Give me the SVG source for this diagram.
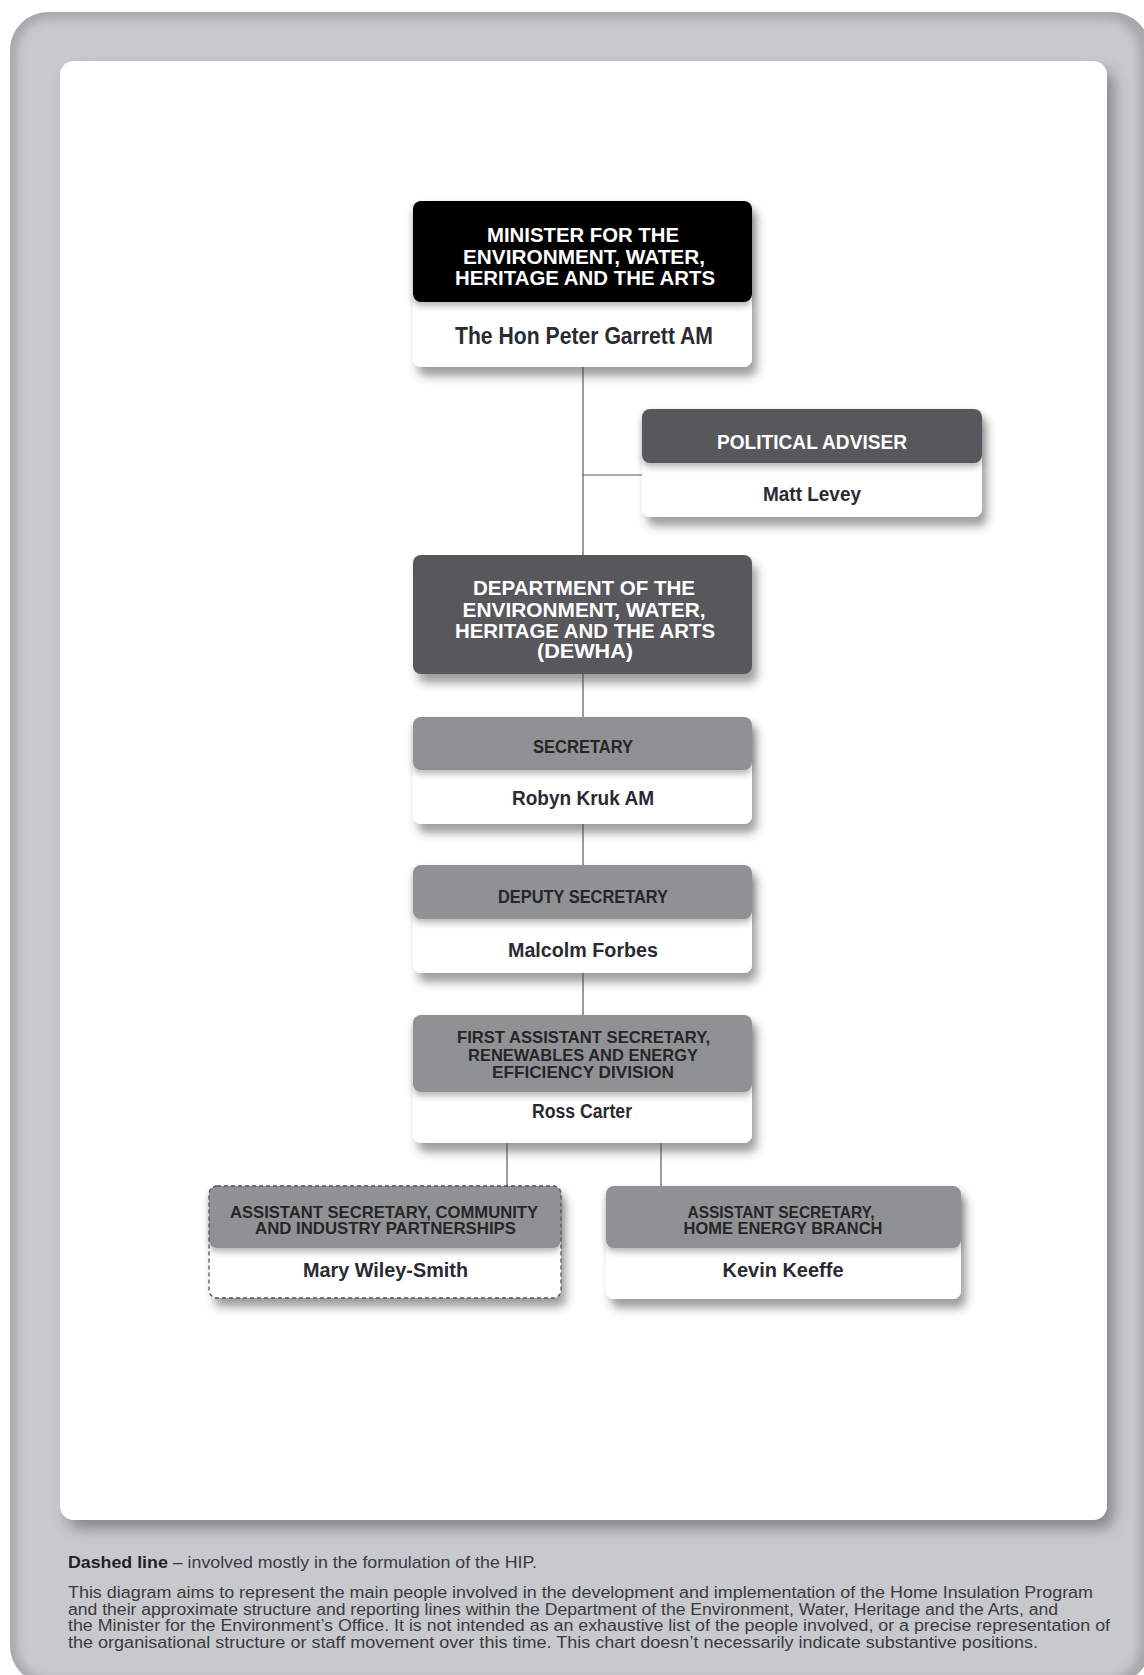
<svg xmlns="http://www.w3.org/2000/svg" width="1144" height="1675" viewBox="0 0 1144 1675">
<defs>
<filter id="soft" x="-5%" y="-5%" width="110%" height="110%"><feGaussianBlur stdDeviation="5"/></filter>
<filter id="panelShadow" x="-5%" y="-5%" width="115%" height="115%"><feDropShadow dx="7" dy="9" stdDeviation="7" flood-color="#55565a" flood-opacity="0.55"/></filter>
<filter id="boxShadow" x="-10%" y="-20%" width="125%" height="160%"><feDropShadow dx="5" dy="9" stdDeviation="5" flood-color="#3a3a3a" flood-opacity="0.5"/></filter>
<filter id="hdrShadow" x="-5%" y="-20%" width="110%" height="160%"><feDropShadow dx="0" dy="4" stdDeviation="3" flood-color="#333" flood-opacity="0.35"/></filter>
<style>
.hw{font-family:"Liberation Sans",Arial,sans-serif;font-weight:bold;fill:#ffffff;text-anchor:middle}
.hd{font-family:"Liberation Sans",Arial,sans-serif;font-weight:bold;fill:#262626;text-anchor:middle}
.nm{font-family:"Liberation Sans",Arial,sans-serif;font-weight:bold;fill:#2a2a33;text-anchor:middle;font-size:19.5px}
.ft{font-family:"Liberation Sans",Arial,sans-serif;fill:#3a3a42;font-size:16px}
.box{fill:#ffffff}
.blk{fill:#050505}
.drk{fill:#58585b}
.mid{fill:#909194}
.ln{stroke:#5a5a5a;stroke-width:1.2;fill:none}
</style>
</defs>

<!-- background panels -->
<rect x="10" y="12" width="1140" height="1672" rx="38" fill="#a6a7aa"/>
<rect x="17" y="19" width="1122" height="1660" rx="33" fill="#c8c9cc" filter="url(#soft)"/>
<rect x="60" y="61" width="1047" height="1459" rx="14" fill="#ffffff" filter="url(#panelShadow)"/>

<!-- connectors -->
<g id="connectors">
<line class="ln" x1="583" y1="367" x2="583" y2="555"/>
<line class="ln" x1="583" y1="475" x2="642" y2="475"/>
<line class="ln" x1="583" y1="674" x2="583" y2="717"/>
<line class="ln" x1="583" y1="824" x2="583" y2="865"/>
<line class="ln" x1="583" y1="973" x2="583" y2="1015"/>
<line class="ln" x1="507" y1="1143" x2="507" y2="1186"/>
<line class="ln" x1="661" y1="1143" x2="661" y2="1186"/>
</g>

<g id="minister">
<rect class="box" x="413" y="201" width="339" height="166" rx="8" filter="url(#boxShadow)"/>
<rect class="blk" x="413" y="201" width="339" height="101" rx="8" filter="url(#hdrShadow)"/>
<text class="hw" font-size="21" x="583" y="242" textLength="192" lengthAdjust="spacingAndGlyphs">MINISTER FOR THE</text>
<text class="hw" font-size="21" x="584" y="264" textLength="242" lengthAdjust="spacingAndGlyphs">ENVIRONMENT, WATER,</text>
<text class="hw" font-size="21" x="585" y="285" textLength="260" lengthAdjust="spacingAndGlyphs">HERITAGE AND THE ARTS</text>
<text class="nm" style="font-size:24px" x="584" y="344" textLength="258" lengthAdjust="spacingAndGlyphs">The Hon Peter Garrett AM</text>
</g>

<g id="adviser">
<rect class="box" x="642" y="409" width="340" height="108" rx="8" filter="url(#boxShadow)"/>
<rect class="drk" x="642" y="409" width="340" height="54" rx="8" filter="url(#hdrShadow)"/>
<text class="hw" font-size="19.5" x="812" y="449" textLength="190" lengthAdjust="spacingAndGlyphs">POLITICAL ADVISER</text>
<text class="nm" x="812" y="501" textLength="98" lengthAdjust="spacingAndGlyphs">Matt Levey</text>
</g>

<g id="dewha">
<rect class="drk" x="413" y="555" width="339" height="119" rx="8" filter="url(#boxShadow)"/>
<text class="hw" font-size="21" x="584" y="595" textLength="222" lengthAdjust="spacingAndGlyphs">DEPARTMENT OF THE</text>
<text class="hw" font-size="21" x="584" y="616.5" textLength="243" lengthAdjust="spacingAndGlyphs">ENVIRONMENT, WATER,</text>
<text class="hw" font-size="21" x="585" y="638" textLength="260" lengthAdjust="spacingAndGlyphs">HERITAGE AND THE ARTS</text>
<text class="hw" font-size="21" x="585" y="658" textLength="96" lengthAdjust="spacingAndGlyphs">(DEWHA)</text>
</g>

<g id="secretary">
<rect class="box" x="413" y="717" width="339" height="107" rx="8" filter="url(#boxShadow)"/>
<rect class="mid" x="413" y="717" width="339" height="53" rx="8" filter="url(#hdrShadow)"/>
<text class="hd" font-size="17.5" x="583" y="753" textLength="100" lengthAdjust="spacingAndGlyphs">SECRETARY</text>
<text class="nm" x="583" y="805" textLength="142" lengthAdjust="spacingAndGlyphs">Robyn Kruk AM</text>
</g>

<g id="deputy">
<rect class="box" x="413" y="865" width="339" height="108" rx="8" filter="url(#boxShadow)"/>
<rect class="mid" x="413" y="865" width="339" height="54" rx="8" filter="url(#hdrShadow)"/>
<text class="hd" font-size="17.5" x="583" y="903" textLength="170" lengthAdjust="spacingAndGlyphs">DEPUTY SECRETARY</text>
<text class="nm" x="583" y="957" textLength="150" lengthAdjust="spacingAndGlyphs">Malcolm Forbes</text>
</g>

<g id="first-assistant">
<rect class="box" x="413" y="1015" width="339" height="128" rx="8" filter="url(#boxShadow)"/>
<rect class="mid" x="413" y="1015" width="339" height="77" rx="8" filter="url(#hdrShadow)"/>
<text class="hd" font-size="16.5" x="583.5" y="1043" textLength="253" lengthAdjust="spacingAndGlyphs">FIRST ASSISTANT SECRETARY,</text>
<text class="hd" font-size="16.5" x="583" y="1060.5" textLength="230" lengthAdjust="spacingAndGlyphs">RENEWABLES AND ENERGY</text>
<text class="hd" font-size="16.5" x="583" y="1078" textLength="182" lengthAdjust="spacingAndGlyphs">EFFICIENCY DIVISION</text>
<text class="nm" x="582" y="1118" textLength="100" lengthAdjust="spacingAndGlyphs">Ross Carter</text>
</g>

<g id="asst-community">
<rect class="box" x="209" y="1186" width="352" height="112" rx="8" filter="url(#boxShadow)"/>
<rect class="mid" x="209" y="1186" width="352" height="62" rx="8" filter="url(#hdrShadow)"/>
<rect x="209" y="1186" width="352" height="112" rx="8" fill="none" stroke="#555" stroke-width="1.3" stroke-dasharray="4 3"/>
<text class="hd" font-size="16.5" x="384" y="1218" textLength="308" lengthAdjust="spacingAndGlyphs">ASSISTANT SECRETARY, COMMUNITY</text>
<text class="hd" font-size="16.5" x="385.5" y="1234" textLength="261" lengthAdjust="spacingAndGlyphs">AND INDUSTRY PARTNERSHIPS</text>
<text class="nm" x="385.5" y="1277" textLength="165" lengthAdjust="spacingAndGlyphs">Mary Wiley-Smith</text>
</g>

<g id="asst-home-energy">
<rect class="box" x="606" y="1186" width="355" height="113" rx="8" filter="url(#boxShadow)"/>
<rect class="mid" x="606" y="1186" width="355" height="62" rx="8" filter="url(#hdrShadow)"/>
<text class="hd" font-size="16.5" x="781" y="1218" textLength="187" lengthAdjust="spacingAndGlyphs">ASSISTANT SECRETARY,</text>
<text class="hd" font-size="16.5" x="783" y="1234" textLength="199" lengthAdjust="spacingAndGlyphs">HOME ENERGY BRANCH</text>
<text class="nm" x="783" y="1277" textLength="121" lengthAdjust="spacingAndGlyphs">Kevin Keeffe</text>
</g>

<g id="footer">
<text class="ft" x="68" y="1568" textLength="469" lengthAdjust="spacingAndGlyphs"><tspan font-weight="bold" fill="#222">Dashed line</tspan> – involved mostly in the formulation of the HIP.</text>
<text class="ft" x="68" y="1598" textLength="1025" lengthAdjust="spacingAndGlyphs">This diagram aims to represent the main people involved in the development and implementation of the Home Insulation Program</text>
<text class="ft" x="68" y="1614.5" textLength="990" lengthAdjust="spacingAndGlyphs">and their approximate structure and reporting lines within the Department of the Environment, Water, Heritage and the Arts, and</text>
<text class="ft" x="68" y="1631" textLength="1042" lengthAdjust="spacingAndGlyphs">the Minister for the Environment’s Office. It is not intended as an exhaustive list of the people involved, or a precise representation of</text>
<text class="ft" x="68" y="1647.5" textLength="970" lengthAdjust="spacingAndGlyphs">the organisational structure or staff movement over this time. This chart doesn’t necessarily indicate substantive positions.</text>
</g>
</svg>
